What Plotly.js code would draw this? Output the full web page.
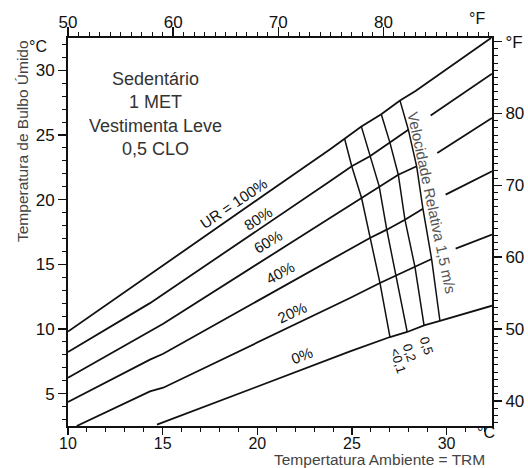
<!DOCTYPE html>
<html><head><meta charset="utf-8">
<script src="https://cdn.plot.ly/plotly-3.0.1.min.js"></script>
<style>html,body{margin:0;padding:0;background:#fff}#chart{width:528px;height:468px}</style>
</head><body><div id="chart"></div>
<script>
// Relative humidity lines: x = ambient temperature (°C), y = wet bulb temperature (°C); null = gap for label
const rh100X = [10.0, 14.3, 20.4, 23.85, 24.61, 25.5, 26.55, 27.54, 28.36, 32.35];
const rh100Y = [9.8, 14.2, 20.4, 23.9, 24.73, 25.65, 26.61, 27.66, 28.4, 32.5];
const rh80X = [10.0, 14.33, 23.84, 24.99, 25.95, 27.01, 27.98, null, 29.16, 32.4];
const rh80Y = [8.22, 12.0, 21.42, 22.58, 23.35, 24.39, 25.41, null, 26.5, 29.74];
const rh60X = [10.0, 14.33, 15.03, 23.84, 25.51, 26.44, 27.45, 28.42, null, 29.51, 32.4];
const rh60Y = [6.23, 9.81, 10.41, 18.58, 20.13, 21.03, 21.93, 22.58, null, 23.61, 26.32];
const rh40X = [10.0, 14.33, 15.03, 22.96, 23.84, 25.95, 26.84, 27.8, 28.75, null, 29.95, 32.4];
const rh40Y = [4.35, 7.63, 8.09, 14.59, 15.36, 17.04, 17.68, 18.45, 19.3, null, 20.39, 22.19];
const rh20X = [10.46, 14.33, 15.03, 20.35, 23.84, 24.9, 26.48, 27.33, 28.33, 29.21, null, 30.48, 32.4];
const rh20Y = [2.5, 5.17, 5.46, 9.17, 11.62, 12.4, 13.56, 14.12, 14.8, 15.41, null, 16.21, 17.3];
const rh0X = [14.7, 20.35, 24.9, 27.01, 27.92, 28.81, 29.65, 32.4];
const rh0Y = [2.6, 5.77, 8.27, 9.38, 9.77, 10.28, 10.62, 11.8];

// Relative air velocity lines (m/s)
const vel01X = [24.61, 24.99, 25.51, 25.95, 26.48, 27.01];
const vel01Y = [24.73, 22.58, 20.13, 17.04, 13.56, 9.38];
const vel02X = [25.5, 25.95, 26.44, 26.84, 27.33, 27.92];
const vel02Y = [25.65, 23.35, 21.03, 17.68, 14.12, 9.77];
const vel05X = [26.55, 27.01, 27.45, 27.8, 28.33, 28.81];
const vel05Y = [26.61, 24.39, 21.93, 18.45, 14.8, 10.28];
const vel15X = [27.54, 27.98, 28.42, 28.75, 29.21, 29.65];
const vel15Y = [27.66, 25.41, 22.58, 19.3, 15.41, 10.62];

// Labels
const rhLabels = ['UR = 100%', '80%', '60%', '40%', '20%', '0%'];
const velLabels = ['<0,1', '0,2', '0,5'];
const velTitle = 'Velocidade Relativa 1,5 m/s';
const infoText = ['Sedentário', '1 MET', 'Vestimenta Leve', '0,5 CLO'];
const xTitle = 'Tempertatura Ambiente = TRM';
const yTitle = 'Temperatura de Bulbo Úmido';
const fTopTicks = [50, 60, 70, 80];
const fRightTicks = [40, 50, 60, 70, 80, 90];
const fRightText = ['40', '50', '60', '70', '80', '°F'];

const FONT = 'Liberation Sans, Arial, Helvetica, sans-serif';
const INK = '#111';

function line(x, y, w) {
  return {x: x, y: y, type: 'scatter', mode: 'lines', connectgaps: false,
    line: {color: INK, width: w}, hoverinfo: 'skip'};
}
const traces = [
  line(rh100X, rh100Y, 1.8), line(rh80X, rh80Y, 1.8), line(rh60X, rh60Y, 1.8),
  line(rh40X, rh40Y, 1.8), line(rh20X, rh20Y, 1.8), line(rh0X, rh0Y, 1.8),
  line(vel01X, vel01Y, 1.5), line(vel02X, vel02Y, 1.5), line(vel05X, vel05Y, 1.5), line(vel15X, vel15Y, 1.5),
  // empty traces so the °F axes (top and right) are drawn
  {x: [null], y: [null], xaxis: 'x2', yaxis: 'y', type: 'scatter', mode: 'lines', hoverinfo: 'skip'},
  {x: [null], y: [null], xaxis: 'x', yaxis: 'y2', type: 'scatter', mode: 'lines', hoverinfo: 'skip'}
];

const rhLabelPos = [
  {x: 18.73, y: 19.72, a: -34}, {x: 20.04, y: 18.55, a: -33}, {x: 20.58, y: 16.75, a: -31},
  {x: 21.22, y: 14.38, a: -29}, {x: 21.83, y: 11.3, a: -25}, {x: 22.36, y: 7.95, a: -21}
];
const velLabelPos = [{x: 27.46, y: 7.5}, {x: 28.05, y: 8.2}, {x: 28.95, y: 8.75}];

const annotations = [];
function ann(o) { annotations.push(Object.assign({showarrow: false, xanchor: 'center', yanchor: 'middle'}, o)); }
rhLabels.forEach((t, i) => ann({
  x: rhLabelPos[i].x, y: rhLabelPos[i].y, xref: 'x', yref: 'y', text: t,
  textangle: rhLabelPos[i].a, font: {family: FONT, size: 15, color: INK}
}));
velLabels.forEach((t, i) => ann({
  x: velLabelPos[i].x, y: velLabelPos[i].y, xref: 'x', yref: 'y', text: t,
  textangle: 72, font: {family: FONT, size: 13, color: INK}
}));
ann({x: 29.21, y: 19.75, xref: 'x', yref: 'y', text: velTitle,
  textangle: 78, font: {family: FONT, size: 15, color: '#555'}});
ann({x: 14.6, y: 26.65, xref: 'x', yref: 'y', text: infoText.join('<br>'),
  align: 'center', font: {family: FONT, size: 18, color: '#333'}});
ann({x: 0.7358, y: -0.087, xref: 'paper', yref: 'paper', text: xTitle,
  font: {family: FONT, size: 15.5, color: '#444'}});
ann({x: -0.1085, y: 0.7345, xref: 'paper', yref: 'paper', text: yTitle,
  textangle: -90, font: {family: FONT, size: 15.5, color: '#444'}});
ann({x: -0.0708, y: 0.977, xref: 'paper', yref: 'paper', text: '°C',
  font: {family: FONT, size: 16, color: INK}});
ann({x: 0.9646, y: 1.0515, xref: 'paper', yref: 'paper', text: '°F',
  font: {family: FONT, size: 16, color: INK}});
ann({x: 0.9858, y: -0.0155, xref: 'paper', yref: 'paper', text: '°C',
  font: {family: FONT, size: 16, color: INK}});

const axisBase = {
  ticks: 'outside', ticklen: 8, tickwidth: 1.5, tickcolor: INK,
  showline: true, linewidth: 2, linecolor: INK, showgrid: false, zeroline: false,
  tickfont: {family: FONT, size: 17, color: INK}, fixedrange: true,
  minor: {dtick: 1, ticks: 'outside', ticklen: 4, tickwidth: 1, tickcolor: INK, showgrid: false}
};

const layout = {
  width: 528, height: 468,
  margin: {l: 68, r: 36, t: 38, b: 42},
  paper_bgcolor: '#fff', plot_bgcolor: '#fff', showlegend: false,
  font: {family: FONT, color: INK},
  xaxis: Object.assign({}, axisBase, {range: [10, 32.4], tickmode: 'linear', tick0: 0, dtick: 5,
    ticklen: 7, ticklabelstandoff: -5, tickfont: {family: FONT, size: 16, color: INK}}),
  yaxis: Object.assign({}, axisBase, {range: [2.5, 32.5], tickmode: 'linear', tick0: 0, dtick: 5}),
  xaxis2: Object.assign({}, axisBase, {overlaying: 'x', side: 'top', anchor: 'y',
    range: [50, 32.4 * 1.8 + 32], tickmode: 'array', tickvals: fTopTicks, ticklen: 9, ticklabelstandoff: -8}),
  yaxis2: Object.assign({}, axisBase, {overlaying: 'y', side: 'right', anchor: 'x',
    range: [2.5 * 1.8 + 32, 32.5 * 1.8 + 32], tickmode: 'array', tickvals: fRightTicks, ticktext: fRightText}),
  annotations: annotations
};

Plotly.newPlot('chart', traces, layout, {staticPlot: true, displayModeBar: false});
</script></body></html>
